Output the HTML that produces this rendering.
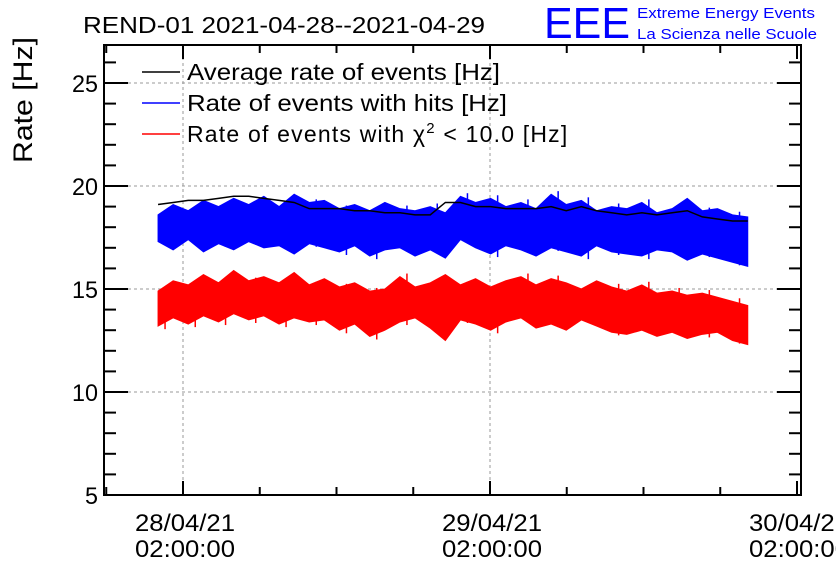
<!DOCTYPE html>
<html><head><meta charset="utf-8"><style>
body{margin:0;background:#fff;}
svg{display:block;font-family:"Liberation Sans",sans-serif;}
</style></head><body>
<svg id="c" width="836" height="572">
<text x="83" y="33" font-size="23" textLength="402" lengthAdjust="spacingAndGlyphs">REND-01 2021-04-28--2021-04-29</text>
<text x="544" y="38" font-size="44" fill="#0000ff" textLength="86" lengthAdjust="spacingAndGlyphs">EEE</text>
<text x="637" y="18" font-size="15" fill="#0000ff" textLength="178" lengthAdjust="spacingAndGlyphs">Extreme Energy Events</text>
<text x="637" y="39" font-size="15" fill="#0000ff" textLength="180" lengthAdjust="spacingAndGlyphs">La Scienza nelle Scuole</text>
<text transform="translate(32,100) rotate(-90)" text-anchor="middle" font-size="27" textLength="126" lengthAdjust="spacingAndGlyphs">Rate [Hz]</text>
<g id="grid"></g><g id="series"></g><g id="axes"></g>
<g>
<line x1="142" y1="72" x2="180" y2="72" stroke="#000" stroke-width="1.5"/>
<text x="187" y="80" font-size="23" textLength="313" lengthAdjust="spacingAndGlyphs">Average rate of events [Hz]</text>
<line x1="142" y1="103" x2="180" y2="103" stroke="#00f" stroke-width="1.5"/>
<text x="187" y="111" font-size="23" textLength="320" lengthAdjust="spacingAndGlyphs">Rate of events with hits [Hz]</text>
<line x1="142" y1="134" x2="180" y2="134" stroke="#f00" stroke-width="1.5"/>
<text x="187" y="142" font-size="23" letter-spacing="1.2">Rate of events with χ<tspan dy="-9" font-size="15">2</tspan><tspan dy="9"> &lt; 10.0 [Hz]</tspan></text>
</g>
</svg>
<script>
const times=[-1.95,-0.77,0.41,1.60,2.78,3.96,5.14,6.32,7.51,8.69,9.87,11.05,12.23,13.42,14.60,15.78,16.96,18.14,19.33,20.51,21.69,22.87,24.05,25.24,26.42,27.60,28.78,29.96,31.14,32.33,33.51,34.69,35.87,37.05,38.24,39.42,40.60,41.78,42.96,44.15];
const avgRate=[19.1,19.2,19.3,19.3,19.4,19.5,19.5,19.4,19.3,19.2,18.9,18.9,18.9,18.8,18.8,18.7,18.7,18.6,18.6,19.2,19.2,19.0,19.0,18.9,18.9,18.9,19.0,18.8,19.0,18.8,18.7,18.6,18.7,18.6,18.7,18.8,18.5,18.4,18.3,18.3];
const blueHi=[18.6,19.1,18.8,19.3,19.0,19.4,19.1,19.5,19.0,19.6,19.2,19.3,18.9,19.1,18.8,19.2,18.9,18.8,19.0,18.7,19.5,19.2,19.4,19.0,19.2,18.9,19.6,19.1,19.3,18.8,19.0,18.9,19.2,18.7,18.9,19.4,18.8,18.9,18.6,18.5];
const blueLo=[17.3,16.9,17.4,16.8,17.2,16.9,17.3,17.0,17.1,16.7,17.2,17.0,16.8,17.1,16.6,16.9,17.0,16.6,16.9,16.5,17.4,17.0,16.7,17.1,16.9,16.6,17.0,16.8,16.6,17.1,16.8,16.7,16.6,16.9,16.8,16.4,16.7,16.5,16.3,16.1];
const redHi=[14.9,15.4,15.2,15.7,15.3,15.9,15.4,15.6,15.3,15.8,15.2,15.5,15.1,15.3,14.9,15.0,15.6,15.1,15.3,15.7,15.2,15.5,15.1,15.4,15.6,15.2,15.5,15.3,15.0,15.4,15.1,14.9,15.2,14.8,14.9,14.7,14.8,14.6,14.4,14.2];
const redLo=[13.2,13.6,13.3,13.7,13.4,13.8,13.5,13.7,13.3,13.6,13.4,13.5,13.0,13.3,12.7,13.0,13.4,13.6,13.1,12.5,13.5,13.3,13.0,13.4,13.6,13.1,13.3,13.0,13.5,13.2,12.9,12.8,13.0,12.7,12.9,12.6,12.8,12.9,12.5,12.3];
const yTicks=[5,10,15,20,25];
const xTickHours=[0,24,48];
const xTickDates=["28/04/21","29/04/21","30/04/21"];
const xTickTimes=["02:00:00","02:00:00","02:00:00"];

const L=104,R=801,T=45,B=495;
const x=h=>183+h*(307/24);
const y=v=>495-(v-5)*20.6;
const NS="http://www.w3.org/2000/svg";
function mk(tag,attrs,parent){const e=document.createElementNS(NS,tag);for(const k in attrs)e.setAttribute(k,attrs[k]);parent.appendChild(e);return e;}
const grid=document.getElementById('grid'),ser=document.getElementById('series'),ax=document.getElementById('axes');
yTicks.forEach(v=>{if(v>5){const g=mk('line',{x1:L,x2:R,y1:y(v),y2:y(v),stroke:'#999','stroke-dasharray':'3,3'},grid);

}});
xTickHours.forEach(h=>{if(x(h)<R-5){const g=mk('line',{x1:x(h),x2:x(h),y1:T,y2:B,stroke:'#999','stroke-dasharray':'3,3'},grid);

}});
function band(hi,lo,color,name){
  let d='M'+times.map((t,i)=>x(t)+','+y(hi[i])).join(' L')+' L'+times.map((t,i)=>x(t)+','+y(lo[i])).reverse().join(' L')+'Z';
  const p=mk('path',{d:d,fill:color,stroke:color,'stroke-width':1},ser);
  
  
  times.forEach((t,i)=>{if(i%2==0){const s=mk('line',{x1:x(t)+7,x2:x(t)+7,y1:y(hi[i]+0.15),y2:y(lo[i]-0.15),stroke:color,'stroke-width':1.5},ser);
  
  }});
}
band(blueHi,blueLo,'#0000ff','hits-rate-series');
band(redHi,redLo,'#ff0000','chi2-rate-series');
const av=mk('polyline',{points:times.map((t,i)=>x(t)+','+y(avgRate[i])).join(' '),fill:'none',stroke:'#000','stroke-width':1.5},ser);


const fr=mk('rect',{x:L,y:T,width:R-L,height:B-T,fill:'none',stroke:'#000','stroke-width':2},ax);


for(let v=5;v<=26.8;v+=1){const maj=(v%5==0);const len=maj?24:12;
 mk('line',{x1:L,x2:L+len,y1:y(v),y2:y(v),stroke:'#000','stroke-width':2},ax);
 mk('line',{x1:R-len,x2:R,y1:y(v),y2:y(v),stroke:'#000','stroke-width':2},ax);}
yTicks.forEach(v=>{const t=mk('text',{x:98,y:y(v)+9,'text-anchor':'end','font-size':24,textLength:v<10?13:26,lengthAdjust:'spacingAndGlyphs'},ax);t.textContent=v;

});
for(let h=-6;h<=48;h+=6){const px=x(h);if(px<L||px>R)continue;const len=(h%24==0)?14:8;
 mk('line',{x1:px,x2:px,y1:B,y2:B-len,stroke:'#000','stroke-width':2},ax);
 mk('line',{x1:px,x2:px,y1:T,y2:T+len,stroke:'#000','stroke-width':2},ax);}
xTickHours.forEach((h,i)=>{const a=mk('text',{x:x(h)+2,y:531,'text-anchor':'middle','font-size':24,textLength:100,lengthAdjust:'spacingAndGlyphs'},ax);a.textContent=xTickDates[i];


const b=mk('text',{x:x(h)+2,y:557,'text-anchor':'middle','font-size':24,textLength:100,lengthAdjust:'spacingAndGlyphs'},ax);b.textContent=xTickTimes[i];

});
</script>
</body></html>
